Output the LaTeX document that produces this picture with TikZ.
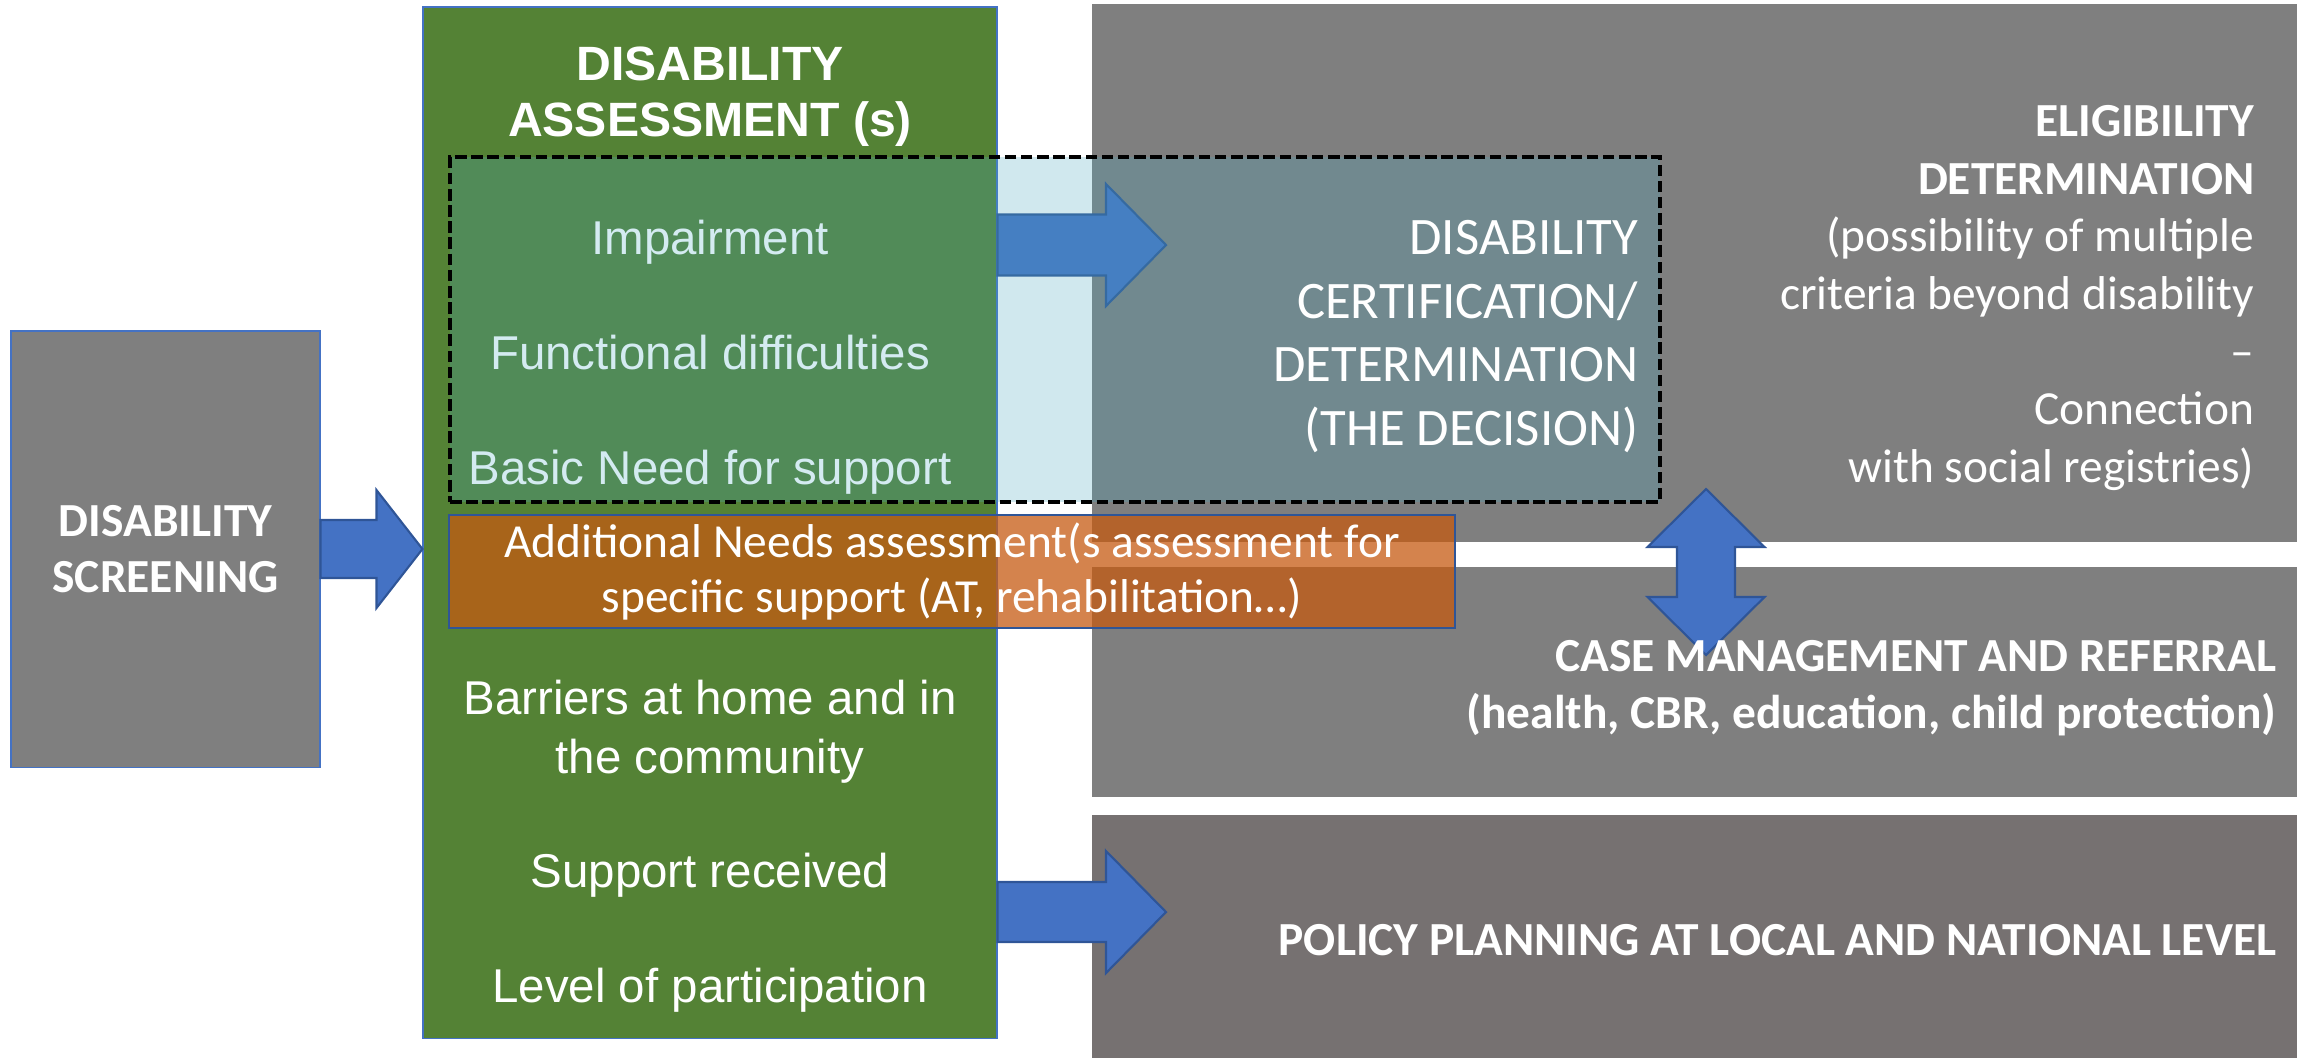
\documentclass[tikz,border=0pt]{standalone}
\usepackage{fontspec}
\setmainfont{Carlito}
\newfontfamily\arialfont{Liberation Sans}
\usepackage{xcolor}
\usetikzlibrary{calc}
\definecolor{boxgray}{HTML}{7F7F7F}
\definecolor{policygray}{HTML}{767171}
\definecolor{assessgreen}{HTML}{548235}
\definecolor{arrowblue}{HTML}{4472C4}
\definecolor{edgeblue}{HTML}{2F5597}
\definecolor{certblue}{RGB}{74,167,191}
\definecolor{needorange}{HTML}{C55A11}
\definecolor{itemblue}{RGB}{212,235,241}

\begin{document}
\begin{tikzpicture}[
    gray box/.style={fill=boxgray, minimum width=12.05cm, inner sep=0pt},
    fat arrow/.style={fill=arrowblue, draw=edgeblue, line width=0.6pt, line join=miter},
    item/.style={font=\arialfont\fontsize{13.5}{16.8}\selectfont, text=white, anchor=base, inner sep=0pt},
    side text/.style={font=\fontsize{13.5}{16.4}\selectfont, text=white, align=right, anchor=east, inner sep=0pt}
    ]
\useasboundingbox (0,0) rectangle (22.99,-10.58);

% right hand blocks
\node[gray box, minimum height=5.38cm] (elig) at (16.945,-2.73) {};
\node[gray box, minimum height=2.30cm] (case) at (16.945,-6.82) {};
\node[gray box, minimum height=2.43cm, fill=policygray] (policy) at (16.945,-9.365) {};

\node[fill=assessgreen, draw=arrowblue, line width=0.3pt, minimum width=5.74cm, minimum height=10.31cm, inner sep=0pt] (assess) at (7.10,-5.225) {};
\node[fill=boxgray, draw=arrowblue, line width=0.3pt, minimum width=3.09cm, minimum height=4.36cm, inner sep=0pt,
      font=\bfseries\fontsize{13.5}{16}\selectfont, text=white, align=center] (screen) at (1.655,-5.49) {DISABILITY\\SCREENING};

\coordinate (cert tip) at (11.66,-2.45);
\coordinate (policy tip) at (11.66,-9.12);
\coordinate (elig tip) at (17.06,-4.89);
\coordinate (case tip) at (17.06,-6.55);

\filldraw[fat arrow] let \p1=(screen.east), \p2=(assess.west) in
  (\x1,\y1+0.29cm) -- (\x2-0.46cm,\y1+0.29cm) -- (\x2-0.46cm,\y1+0.59cm) -- (\x2,\y1)
  -- (\x2-0.46cm,\y1-0.59cm) -- (\x2-0.46cm,\y1-0.29cm) -- (\x1,\y1-0.29cm) -- cycle;
\filldraw[fat arrow] let \p1=(assess.east |- cert tip), \p2=(cert tip) in
  (\x1,\y1+0.305cm) -- (\x2-0.60cm,\y1+0.305cm) -- (\x2-0.60cm,\y1+0.61cm) -- (\x2,\y2)
  -- (\x2-0.60cm,\y1-0.61cm) -- (\x2-0.60cm,\y1-0.305cm) -- (\x1,\y1-0.305cm) -- cycle;
\filldraw[fat arrow] let \p1=(assess.east |- policy tip), \p2=(policy tip) in
  (\x1,\y1+0.30cm) -- (\x2-0.60cm,\y1+0.30cm) -- (\x2-0.60cm,\y1+0.61cm) -- (\x2,\y2)
  -- (\x2-0.60cm,\y1-0.61cm) -- (\x2-0.60cm,\y1-0.30cm) -- (\x1,\y1-0.30cm) -- cycle;

% the decision box laid over assessment and eligibility
\node[fill=certblue, fill opacity=0.26, draw=black, line width=0.9pt, dash pattern=on 3.3pt off 1.3pt,
      minimum width=12.10cm, minimum height=3.45cm, inner sep=0pt] (cert) at (10.55,-3.295) {};

\filldraw[fat arrow] let \p1=(elig tip), \p2=(case tip) in
  (\x1,\y1) -- (\x1+0.585cm,\y1-0.58cm) -- (\x1+0.29cm,\y1-0.58cm) -- (\x1+0.29cm,\y2+0.58cm)
  -- (\x1+0.585cm,\y2+0.58cm) -- (\x2,\y2) -- (\x1-0.585cm,\y2+0.58cm) -- (\x1-0.29cm,\y2+0.58cm)
  -- (\x1-0.29cm,\y1-0.58cm) -- (\x1-0.585cm,\y1-0.58cm) -- cycle;

\node[fill=needorange, fill opacity=0.75, text opacity=1, draw=edgeblue, line width=0.6pt,
      minimum width=10.06cm, minimum height=1.13cm, inner sep=0pt, text=white, align=center,
      font=\fontsize{13.5}{15.4}\selectfont] (needs) at (9.52,-5.715)
      {Additional Needs assessment(s assessment for\\specific support (AT, rehabilitation…)};

% texts
\node[font=\arialfont\bfseries\fontsize{13.7}{15.9}\selectfont, text=white, align=center, inner sep=0pt] (title) at (7.10,-0.97) {DISABILITY\\ASSESSMENT (s)};
\node[item, text=itemblue] (impair) at (7.10,-2.54) {Impairment};
\node[item, text=itemblue] (func) at (7.10,-3.69) {Functional difficulties};
\node[item, text=itemblue] (basic) at (7.10,-4.84) {Basic Need for support};
\node[item, anchor=center, align=center] (barrier) at (7.10,-7.315) {Barriers at home and in\\the community};
\node[item] (received) at (7.10,-8.87) {Support received};
\node[item] (partic) at (7.10,-10.02) {Level of participation};

\node[side text, font=\fontsize{15}{18.1}\selectfont] (decision) at (16.39,-3.365) {DISABILITY\\CERTIFICATION/\\DETERMINATION\\(THE DECISION)};
\node[side text] (eligtext) at (22.55,-2.98) {\textbf{ELIGIBILITY}\\\textbf{DETERMINATION}\\(possibility of multiple\\criteria beyond disability\\–\\Connection\\with social registries)};
\node[side text, font=\bfseries\fontsize{13.5}{16.2}\selectfont] (casetext) at (22.77,-6.88) {CASE MANAGEMENT AND REFERRAL\\(health, CBR, education, child protection)};
\node[side text, font=\bfseries\fontsize{13.5}{16.2}\selectfont, anchor=base east] (policytext) at (22.77,-9.55) {POLICY PLANNING AT LOCAL AND NATIONAL LEVEL};
\end{tikzpicture}
\end{document}
